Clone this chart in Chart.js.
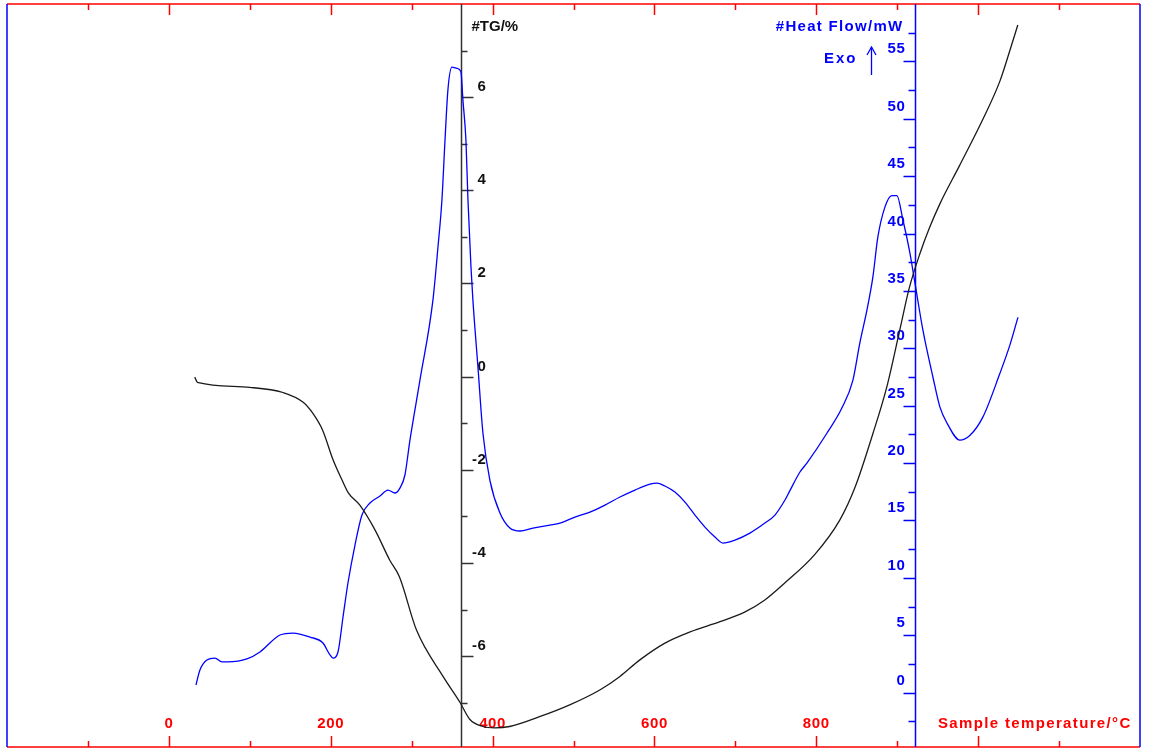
<!DOCTYPE html>
<html>
<head>
<meta charset="utf-8">
<title>TG / DSC</title>
<script src="https://cdn.jsdelivr.net/npm/chart.js@4.4.1/dist/chart.umd.min.js"></script>
<style>
  html, body { margin: 0; padding: 0; background: #fff; }
  #wrap { width: 1150px; height: 749px; }
</style>
</head>
<body>
<div id="wrap"><canvas id="ta" width="1150" height="749"></canvas></div>
<script>
// ── Curve data: sample temperature (°C) vs TG (%) and heat flow (mW) ──
const TG_TEMP = [32, 34.7, 36.6, 100, 141, 166, 178, 190, 203, 214, 222, 236, 255, 273, 285, 306, 339, 360, 372, 388, 403, 421, 458, 496, 533, 557, 582, 613, 644, 681, 712, 736, 761, 798, 829, 848, 870, 887, 903, 915, 928, 940, 953, 977, 1006, 1027, 1039, 1049];
const TG_VAL  = [-0.01, -0.11, -0.13, -0.23, -0.34, -0.55, -0.79, -1.15, -1.79, -2.22, -2.50, -2.76, -3.30, -3.94, -4.30, -5.44, -6.44, -7.00, -7.36, -7.51, -7.54, -7.51, -7.30, -7.04, -6.72, -6.44, -6.08, -5.72, -5.48, -5.26, -5.05, -4.80, -4.43, -3.82, -3.08, -2.37, -1.22, -0.23, 0.99, 1.91, 2.64, 3.20, 3.72, 4.53, 5.53, 6.35, 6.99, 7.55];

const HF_TEMP = [33.5, 38.4, 47, 57, 65.6, 73, 96.5, 112.6, 137.3, 153.4, 174.4, 190.4, 199.1, 202.8, 209, 215.2, 221.3, 230, 238.6, 248.5, 260.9, 270.7, 279.4, 285.5, 291.7, 297.9, 310.2, 326.3, 332.5, 337.4, 341.2, 344.8, 349.8, 356, 360.9, 363.4, 367.1, 369.6, 373.3, 375.7, 381.9, 388.1, 396.7, 409.1, 421.4, 433.8, 449.9, 470.9, 483.2, 501.8, 520.3, 538.9, 557.4, 575.9, 594.5, 603.1, 613, 625.3, 637.7, 650.1, 662.4, 674.8, 684.6, 699.5, 718, 736.5, 748.9, 761.3, 767.4, 779.8, 788.4, 813.1, 831.6, 845.2, 853.9, 862.5, 869.9, 876.1, 884.8, 893.4, 899.6, 907, 915.7, 921.9, 931.7, 944.1, 952.7, 961.4, 977.4, 989.7, 1005.8, 1026.8, 1039.3, 1049.2];
const HF_VAL  = [0.66, 1.97, 2.84, 3.01, 2.67, 2.67, 2.93, 3.54, 5.02, 5.19, 4.84, 4.32, 3.28, 3.01, 3.54, 6.59, 9.55, 12.86, 15.47, 16.52, 17.13, 17.65, 17.39, 17.82, 18.96, 22.0, 27.2, 34.2, 38.8, 42.9, 48.1, 52.5, 54.5, 54.4, 54.1, 51.6, 48.1, 42.9, 37.1, 34.2, 28.4, 22.6, 18.5, 15.65, 14.34, 14.08, 14.34, 14.6, 14.77, 15.29, 15.73, 16.34, 17.04, 17.65, 18.17, 18.26, 18.0, 17.47, 16.6, 15.47, 14.42, 13.55, 13.03, 13.29, 13.9, 14.77, 15.47, 16.78, 17.6, 19.22, 20.0, 22.6, 24.8, 27.2, 30.5, 33.3, 36.2, 39.7, 42.3, 43.3, 43.3, 41.2, 38.3, 35.7, 31.6, 27.5, 24.9, 23.5, 22.0, 22.4, 24.0, 27.8, 30.3, 32.7];

// ── Axis ticks / labels ──
const TEMP_LABELS = [0, 200, 400, 600, 800];
const TG_LABELS   = [6, 4, 2, 0, -2, -4, -6];
const HF_LABELS   = [0, 5, 10, 15, 20, 25, 30, 35, 40, 45, 50, 55];

const TG_AXIS_AT = 361;   // °C position of the TG axis line
const HF_AXIS_AT = 922;   // °C position of the heat-flow axis line

const RED = '#ff0000';
const BLUE = '#0000ff';
const FONT = 'bold 15px "Liberation Sans", Arial, sans-serif';

function seg(ctx, x1, y1, x2, y2, color, w) {
  ctx.beginPath();
  ctx.strokeStyle = color;
  ctx.lineWidth = w || 1.5;
  ctx.moveTo(x1, y1);
  ctx.lineTo(x2, y2);
  ctx.stroke();
}

function text(ctx, s, x, y, color, align, spacing) {
  ctx.fillStyle = color;
  ctx.textAlign = align || 'left';
  ctx.textBaseline = 'alphabetic';
  ctx.letterSpacing = (spacing || 0) + 'px';
  ctx.fillText(s, x, y);
}

// frame, the two y axes and all axis text
const taAxes = {
  id: 'taAxes',
  beforeDatasetsDraw(chart) {
    const { ctx, chartArea: a, scales } = chart;
    const x = scales.x, yTG = scales.yTG, yHF = scales.yHF;
    ctx.save();
    ctx.font = FONT;

    // frame
    seg(ctx, a.left, a.top, a.right, a.top, RED);
    seg(ctx, a.left, a.bottom, a.right, a.bottom, RED);
    seg(ctx, a.left, a.top, a.left, a.bottom, BLUE);
    seg(ctx, a.right, a.top, a.right, a.bottom, BLUE);

    // temperature ticks, top and bottom
    for (let v = -100; v <= 1100; v += 100) {
      const px = Math.round(x.getPixelForValue(v)) + 0.5;
      const len = v % 200 === 0 ? 11 : 6;
      seg(ctx, px, a.top, px, a.top + len, RED);
      seg(ctx, px, a.bottom, px, a.bottom - len, RED);
    }
    TEMP_LABELS.forEach(v => {
      text(ctx, String(v), x.getPixelForValue(v), a.bottom - 19, RED, 'center', 0.6);
    });
    text(ctx, 'Sample temperature/°C', 938, a.bottom - 19, RED, 'left', 1.35);

    // TG axis
    const tx = Math.round(x.getPixelForValue(TG_AXIS_AT)) + 0.5;
    seg(ctx, tx, a.top, tx, a.bottom, '#333', 1.5);
    for (let v = -7; v <= 7; v++) {
      const py = Math.round(yTG.getPixelForValue(v)) + 0.5;
      seg(ctx, tx, py, tx + (v % 2 === 0 ? 12 : 6), py, '#333', 1.5);
    }
    TG_LABELS.forEach(v => {
      text(ctx, String(v), tx + 25, yTG.getPixelForValue(v) - 6, '#111', 'right', 0.6);
    });
    text(ctx, '#TG/%', tx + 10, 31, '#111', 'left', 0);

    // heat flow axis
    const hx = Math.round(x.getPixelForValue(HF_AXIS_AT)) + 0.5;
    seg(ctx, hx, a.top, hx, a.bottom, BLUE, 1.5);
    for (let v = -2.5; v <= 57.5; v += 2.5) {
      const py = Math.round(yHF.getPixelForValue(v)) + 0.5;
      seg(ctx, hx, py, hx - (v % 5 === 0 ? 12 : 7), py, BLUE, 1.5);
    }
    HF_LABELS.forEach(v => {
      text(ctx, String(v), hx - 10, yHF.getPixelForValue(v) - 8, BLUE, 'right', 0.6);
    });
    text(ctx, '#Heat Flow/mW', hx - 12, 31, BLUE, 'right', 1.3);
    text(ctx, 'Exo', hx - 58, 63, BLUE, 'right', 2);

    // exo arrow
    const ax = hx - 44;
    seg(ctx, ax, 75, ax, 47, BLUE, 1.3);
    ctx.beginPath();
    ctx.moveTo(ax - 4.5, 55);
    ctx.lineTo(ax, 47);
    ctx.lineTo(ax + 4.5, 55);
    ctx.stroke();

    ctx.restore();
  }
};

new Chart(document.getElementById('ta'), {
  type: 'line',
  data: {
    datasets: [
      {
        label: 'TG',
        data: TG_TEMP.map((t, i) => ({ x: t, y: TG_VAL[i] })),
        yAxisID: 'yTG',
        borderColor: '#1a1a1a',
        borderWidth: 1.3,
        pointRadius: 0,
        cubicInterpolationMode: 'monotone'
      },
      {
        label: 'Heat Flow',
        data: HF_TEMP.map((t, i) => ({ x: t, y: HF_VAL[i] })),
        yAxisID: 'yHF',
        borderColor: BLUE,
        borderWidth: 1.3,
        pointRadius: 0,
        cubicInterpolationMode: 'monotone'
      }
    ]
  },
  options: {
    responsive: false,
    animation: false,
    events: [],
    layout: { padding: { left: 7, top: 4, right: 10, bottom: 2 } },
    plugins: { legend: { display: false }, tooltip: { enabled: false } },
    scales: {
      x:   { type: 'linear', min: -200, max: 1200, display: false },
      yTG: { type: 'linear', min: -7.95, max: 8, display: false },
      yHF: { type: 'linear', min: -4.74, max: 60, display: false }
    }
  },
  plugins: [taAxes]
});
</script>
</body>
</html>
